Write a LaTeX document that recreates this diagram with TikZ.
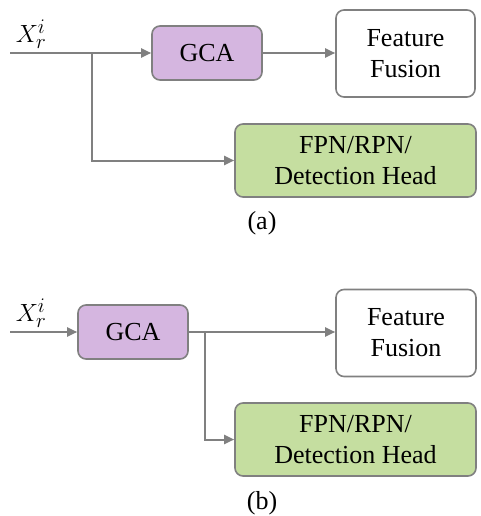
\documentclass[tikz,border=0pt]{standalone}
\usepackage{fontspec}
\setmainfont{Liberation Serif}
\usetikzlibrary{arrows.meta,calc}
\definecolor{gcafill}{RGB}{213,182,224}
\definecolor{fpnfill}{RGB}{197,222,160}
\definecolor{edgegray}{RGB}{128,128,128}
\begin{document}
\begin{tikzpicture}[x=1pt,y=-1pt,
  box/.style={draw=edgegray,line width=1.6pt,rounded corners=8pt,align=center,
    inner sep=0pt,font=\rmfamily\fontsize{26}{31}\selectfont},
  conn/.style={draw=edgegray,line width=2pt,-{Triangle[length=10pt,width=9pt]}},
  captext/.style={font=\rmfamily\fontsize{26}{31}\selectfont},
  mathlabel/.style={font=\fontsize{29}{34}\selectfont,inner sep=0pt}]
\useasboundingbox (0,0) rectangle (480,516);
% (a)
\node[box,fill=gcafill,minimum width=110pt,minimum height=54pt] (gcaA) at (207,53) {GCA};
\node[box,fill=white,minimum width=139pt,minimum height=87pt] (ffA) at (405.5,53.5) {Feature\\Fusion};
\node[box,fill=fpnfill,minimum width=241pt,minimum height=73pt] (fpnA) at (355.5,160.5) {FPN/RPN/\\Detection Head};
\node[captext] (labA) at (262,223) {(a)};
\node[mathlabel] (xA) at (31,34) {$X_{r}^{i}$};
\coordinate (inA) at (10,53);
\coordinate (brA) at (92,53);
\draw[conn] (inA) -- (gcaA.west);
\draw[conn] (gcaA.east) -- (ffA.west |- gcaA.east);
\draw[conn] (brA) |- (fpnA.west);
% (b)
\node[box,fill=gcafill,minimum width=110pt,minimum height=54pt] (gcaB) at (133,332) {GCA};
\node[box,fill=white,minimum width=140pt,minimum height=87pt] (ffB) at (406,333) {Feature\\Fusion};
\node[box,fill=fpnfill,minimum width=241pt,minimum height=73pt] (fpnB) at (355.5,439.5) {FPN/RPN/\\Detection Head};
\node[captext] (labB) at (262,503) {(b)};
\node[mathlabel] (xB) at (31,313) {$X_{r}^{i}$};
\coordinate (inB) at (10,332);
\coordinate (brB) at (205,332);
\draw[conn] (inB) -- (gcaB.west);
\draw[conn] (gcaB.east) -- (ffB.west |- gcaB.east);
\draw[conn] (brB) |- (fpnB.west);
\end{tikzpicture}
\end{document}
